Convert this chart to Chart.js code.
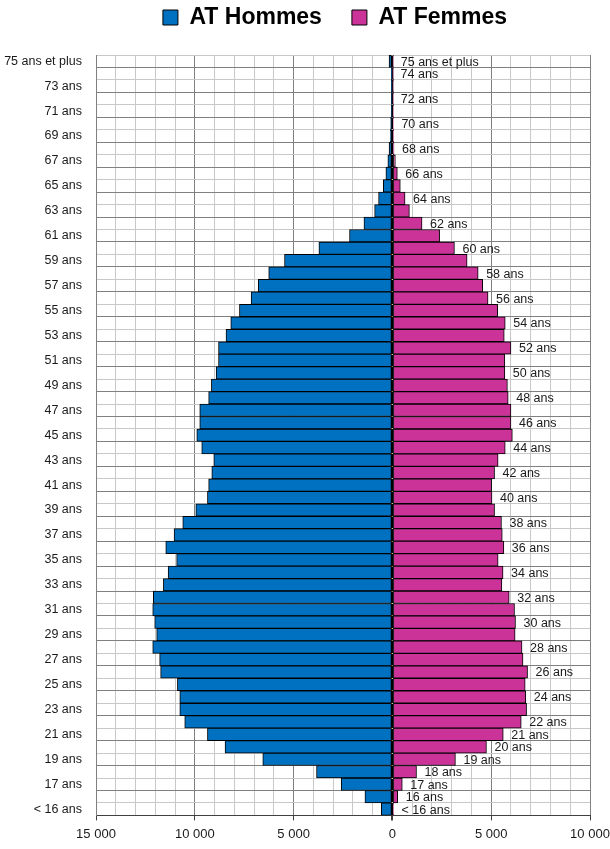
<!DOCTYPE html>
<html lang="fr">
<head>
<meta charset="utf-8">
<title>Pyramide des âges - AT</title>
<script src="https://cdn.jsdelivr.net/npm/chart.js@4.4.1/dist/chart.umd.min.js"></script>
<style>
  html, body { margin: 0; padding: 0; background: #fff; }
  canvas { display: block; }
</style>
</head>
<body>
<canvas id="pyramide" width="610" height="849"></canvas>
<script>
// Tranches d'âge, du haut vers le bas
const ages = [
  '75 ans et plus', '74 ans', '73 ans', '72 ans', '71 ans', '70 ans', '69 ans', '68 ans',
  '67 ans', '66 ans', '65 ans', '64 ans', '63 ans', '62 ans', '61 ans', '60 ans',
  '59 ans', '58 ans', '57 ans', '56 ans', '55 ans', '54 ans', '53 ans', '52 ans',
  '51 ans', '50 ans', '49 ans', '48 ans', '47 ans', '46 ans', '45 ans', '44 ans',
  '43 ans', '42 ans', '41 ans', '40 ans', '39 ans', '38 ans', '37 ans', '36 ans',
  '35 ans', '34 ans', '33 ans', '32 ans', '31 ans', '30 ans', '29 ans', '28 ans',
  '27 ans', '26 ans', '25 ans', '24 ans', '23 ans', '22 ans', '21 ans', '20 ans',
  '19 ans', '18 ans', '17 ans', '16 ans', '< 16 ans'
];

const hommes = [
  170, 30, 40, 50, 60, 90, 110, 170,
  230, 330, 460, 700, 900, 1440, 2170, 3720,
  5460, 6260, 6790, 7150, 7740, 8180, 8420, 8800,
  8800, 8920, 9160, 9300, 9750, 9750, 9900, 9650,
  9040, 9140, 9300, 9360, 9950, 10610, 11050, 11470,
  10920, 11350, 11590, 12100, 12130, 12030, 11930, 12130,
  11780, 11730, 10880, 10760, 10760, 10510, 9360, 8470,
  6560, 3840, 2590, 1390, 560
];

const femmes = [
  20, 10, 15, 20, 30, 50, 60, 80,
  150, 250, 400, 640, 860, 1500, 2390, 3140,
  3780, 4340, 4570, 4840, 5330, 5710, 5660, 6000,
  5690, 5690, 5820, 5860, 6000, 6000, 6070, 5710,
  5350, 5170, 5020, 5040, 5170, 5520, 5560, 5640,
  5350, 5600, 5540, 5910, 6180, 6230, 6210, 6560,
  6610, 6840, 6720, 6750, 6790, 6520, 5610, 4760,
  3190, 1220, 500, 270, 60
];

// Etiquettes affichées au bout des barres femmes
const etiquettesBarres = [
  '75 ans et plus', '74 ans', '72 ans', '70 ans', '68 ans', '66 ans', '64 ans', '62 ans',
  '60 ans', '58 ans', '56 ans', '54 ans', '52 ans', '50 ans', '48 ans', '46 ans',
  '44 ans', '42 ans', '40 ans', '38 ans', '36 ans', '34 ans', '32 ans', '30 ans',
  '28 ans', '26 ans', '24 ans', '22 ans', '21 ans', '20 ans', '19 ans', '18 ans',
  '17 ans', '16 ans', '< 16 ans'
];

// Graduations principales de l'axe horizontal
const graduations = [-15000, -10000, -5000, 0, 5000, 10000];

const POLICE = "'Liberation Sans', Arial, sans-serif";
Chart.defaults.font.family = POLICE;
Chart.defaults.color = '#1a1a1a';

function formatMilliers(v) {
  return Math.abs(v).toString().replace(/\B(?=(\d{3})+(?!\d))/g, ' ');
}

// Texte à droite des barres femmes
const etiquettesFemmes = {
  id: 'etiquettesFemmes',
  afterDatasetsDraw(chart) {
    const meta = chart.getDatasetMeta(1);
    const ctx = chart.ctx;
    ctx.save();
    ctx.font = '12.5px ' + POLICE;
    ctx.fillStyle = '#1a1a1a';
    ctx.textBaseline = 'middle';
    ctx.textAlign = 'left';
    ages.forEach((age, i) => {
      if (!etiquettesBarres.includes(age)) return;
      const barre = meta.data[i];
      ctx.fillText(age, barre.x + 8, barre.y + 1);
    });
    ctx.restore();
  }
};

// Légende un peu décalée vers la droite, comme sur l'original
const placeLegende = {
  id: 'placeLegende',
  beforeLayout(chart) {
    const leg = chart.legend;
    if (leg && !leg._ajuste) {
      const fit = leg.fit;
      leg.fit = function () {
        fit.call(this);
        this.height = 55;
      };
      leg._ajuste = true;
    }
  },
  afterLayout(chart) {
    chart.legend.left += 60;
    chart.legend.top -= 24;
  }
};

new Chart(document.getElementById('pyramide'), {
  type: 'bar',
  data: {
    labels: ages,
    datasets: [
      {
        label: 'AT Hommes',
        data: hommes.map(v => -v),
        backgroundColor: '#0070c0',
        borderColor: '#000',
        borderWidth: 1,
        borderSkipped: false,
        barPercentage: 1,
        categoryPercentage: 1
      },
      {
        label: 'AT Femmes',
        data: femmes,
        backgroundColor: '#cc3399',
        borderColor: '#000',
        borderWidth: 1,
        borderSkipped: false,
        barPercentage: 1,
        categoryPercentage: 1
      }
    ]
  },
  options: {
    indexAxis: 'y',
    responsive: false,
    animation: false,
    layout: { padding: { top: 0, right: 0, bottom: 1, left: 0 } },
    plugins: {
      tooltip: { enabled: false },
      legend: {
        position: 'top',
        labels: {
          boxWidth: 15,
          boxHeight: 15,
          padding: 30,
          color: '#000',
          font: { size: 23, weight: 'bold' }
        }
      }
    },
    scales: {
      x: {
        stacked: true,
        min: -15000,
        max: 10000,
        afterFit(scale) {
          scale.paddingLeft = 0;
          scale.paddingRight = 20;
        },
        ticks: {
          stepSize: 1000,
          autoSkip: false,
          maxRotation: 0,
          padding: 6,
          font: { size: 13 },
          callback: v => graduations.includes(v) ? formatMilliers(v) : ''
        },
        grid: {
          tickLength: 5,
          color: c => c.tick.value === 0 ? '#000' : (c.tick.value % 5000 === 0 ? '#808080' : '#c8c8c8'),
          lineWidth: c => c.tick.value === 0 ? 2 : 1,
          tickColor: c => c.tick.value % 5000 === 0 ? '#404040' : 'rgba(0,0,0,0)'
        },
        border: { color: '#404040', width: 1 }
      },
      y: {
        stacked: true,
        afterFit(scale) {
          scale.width = 96;
        },
        ticks: {
          autoSkip: false,
          padding: 14,
          font: { size: 12.5 },
          callback: (v, i) => i % 2 === 0 ? ages[i] : ''
        },
        grid: {
          drawTicks: false,
          offset: true,
          color: c => (c.index === undefined || c.index % 2 === 1) ? '#808080' : '#c8c8c8'
        },
        border: { color: '#808080' }
      }
    }
  },
  plugins: [etiquettesFemmes, placeLegende]
});
</script>
</body>
</html>
